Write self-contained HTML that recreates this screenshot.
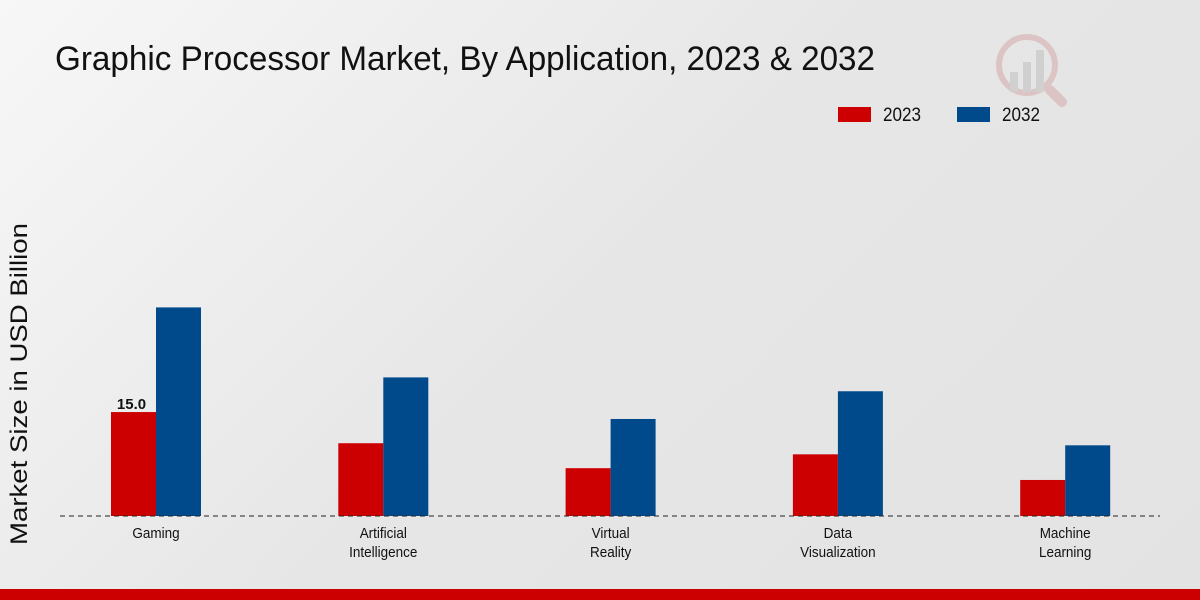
<!DOCTYPE html>
<html><head><meta charset="utf-8">
<style>
body{margin:0;width:1200px;height:600px;overflow:hidden;font-family:"Liberation Sans",sans-serif;}
#bg{position:absolute;left:0;top:0;width:1200px;height:600px;background:linear-gradient(135deg,#f7f7f7 0%,#e6e6e6 50%,#e3e3e3 100%);}
</style></head><body>
<div id="bg"></div>
<svg id="chart" width="1200" height="600" style="position:absolute;left:0;top:0">
<text x="55" y="70" font-size="34" fill="#111" textLength="820" lengthAdjust="spacingAndGlyphs">Graphic Processor Market, By Application, 2023 &amp; 2032</text>
<text transform="translate(27 384) rotate(-90)" text-anchor="middle" font-size="24" fill="#111" textLength="322" lengthAdjust="spacingAndGlyphs">Market Size in USD Billion</text>
<g>
<rect x="838" y="107" width="33" height="15" fill="#cc0000"/>
<text x="883" y="121" font-size="19" fill="#111" transform="translate(883 0) scale(0.9 1) translate(-883 0)">2023</text>
<rect x="957" y="107" width="33" height="15" fill="#004a8c"/>
<text x="1002" y="121" font-size="19" fill="#111" transform="translate(1002 0) scale(0.9 1) translate(-1002 0)">2032</text>
</g>
<g opacity="0.35">
<circle cx="1027" cy="65" r="28" fill="none" stroke="#c88" stroke-width="6"/>
<rect x="1010" y="72" width="8" height="20" fill="#aaa"/><rect x="1023" y="62" width="8" height="30" fill="#aaa"/><rect x="1036" y="50" width="8" height="42" fill="#aaa"/>
<line x1="1050" y1="90" x2="1062" y2="102" stroke="#c88" stroke-width="10" stroke-linecap="round"/>
</g>
<g id="bars"></g>
<line x1="60" y1="516" x2="1160" y2="516" stroke="#222" stroke-width="1" stroke-dasharray="5,4"/>
<g id="labels"></g>
<rect x="0" y="589" width="1200" height="11" fill="#cc0000"/>
</svg>
<script>
const categories=[["Gaming"],["Artificial","Intelligence"],["Virtual","Reality"],["Data","Visualization"],["Machine","Learning"]];
const values2023=[15.0,10.5,6.9,8.9,5.2];
const values2032=[30.1,20.0,14.0,18.0,10.2];
const shownLabels=["15.0",null,null,null,null];
const base=516,ppu=6.93,x0=156,step=227.3,bw=45;
const y=v=>base-v*ppu;
const xc=i=>x0+i*step;
const NS="http://www.w3.org/2000/svg";
const bars=document.getElementById('bars'),labels=document.getElementById('labels');
categories.forEach((c,i)=>{
 const r1=document.createElementNS(NS,'rect');
 r1.setAttribute('x',xc(i)-bw);r1.setAttribute('y',y(values2023[i]));r1.setAttribute('width',bw);r1.setAttribute('height',base-y(values2023[i]));r1.setAttribute('fill','#cc0000');
 
 
 bars.appendChild(r1);
 const r2=document.createElementNS(NS,'rect');
 r2.setAttribute('x',xc(i));r2.setAttribute('y',y(values2032[i]));r2.setAttribute('width',bw);r2.setAttribute('height',base-y(values2032[i]));r2.setAttribute('fill','#004a8c');
 
 
 bars.appendChild(r2);
 if(shownLabels[i]){
  const t=document.createElementNS(NS,'text');
  t.setAttribute('x',xc(i)-bw/2-2);t.setAttribute('y',y(values2023[i])-3);t.setAttribute('text-anchor','middle');t.setAttribute('font-size','15');t.setAttribute('font-weight','bold');t.setAttribute('fill','#111');
  t.textContent=shownLabels[i];
  
  
  labels.appendChild(t);
 }
 c.forEach((line,j)=>{
  const t=document.createElementNS(NS,'text');
  t.setAttribute('x',xc(i));t.setAttribute('y',538+j*19);t.setAttribute('text-anchor','middle');t.setAttribute('font-size','15');t.setAttribute('fill','#111');
  t.setAttribute('transform',`translate(${xc(i)} 0) scale(0.9 1) translate(${-xc(i)} 0)`);
  t.textContent=line;
  
  
  labels.appendChild(t);
 });
});
</script>
</body></html>
